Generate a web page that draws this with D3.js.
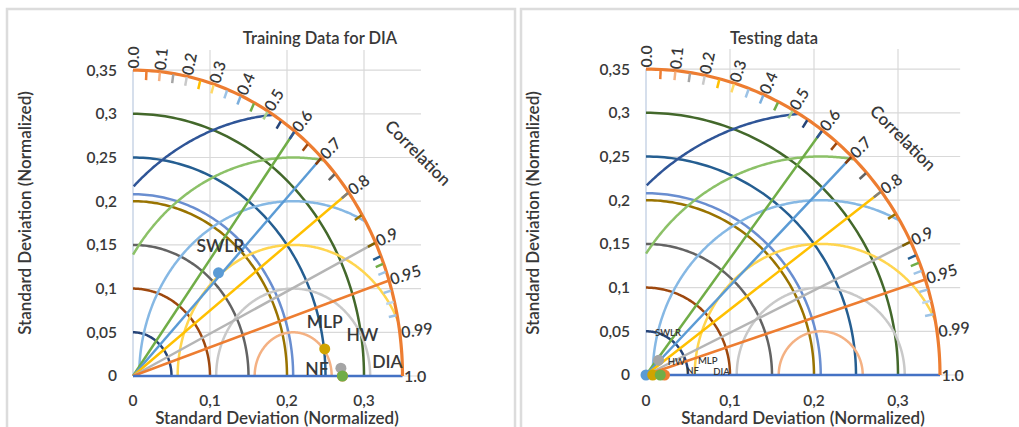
<!DOCTYPE html>
<html>
<head>
<meta charset="utf-8">
<script src="https://cdn.jsdelivr.net/npm/d3@7"></script>
<style>
body { margin: 0; background: #fff; }
text { font-family: Lato, "Open Sans", sans-serif; fill: #383838; font-weight: 600; }
</style>
</head>
<body>
<script>
// values

const yTicks = [0, 0.05, 0.1, 0.15, 0.2, 0.25, 0.3, 0.35]
const xTicks = [0, 0.1, 0.2, 0.3]
const stdCircles = [0.05, 0.1, 0.15, 0.2, 0.25, 0.3]
const refStd = 0.208
const outerStd = 0.35
const rmsCircles = [0.05, 0.1, 0.15, 0.2, 0.25, 0.3]
const corrLines = [0.6, 0.7, 0.8, 0.9, 0.95, 1.0]
const corrLabels = [0, 0.1, 0.2, 0.3, 0.4, 0.5, 0.6, 0.7, 0.8, 0.9, 0.95, 0.99, 1.0]
const corrTicks = [0.05, 0.1, 0.15, 0.2, 0.25, 0.3, 0.35, 0.4, 0.45, 0.5, 0.55, 0.6,
    0.65, 0.7, 0.75, 0.8, 0.85, 0.9, 0.92, 0.93, 0.94, 0.96, 0.97, 0.98]

const models = ["DIA", "SWLR", "MLP", "NF", "HW"]
const trainX = [0.272, 0.111, 0.249, 0.270, 0.272]
const trainY = [0, 0.118, 0.031, 0.009, 0]
const testX = [0.022, 0, 0.008, 0.015, 0.017]
const testY = [0, 0, 0, 0.017, 0]

// styles

const stdColors = ["#264478", "#9E480E", "#636363", "#997300", "#255E91", "#43682B"]
const rmsColors = ["#F4B183", "#C9C9C9", "#FFD54F", "#86B8E4", "#8CC168", "#2F5597"]
const corrColors = ["#70AD47", "#5B9BD5", "#FFC000", "#B5B5B5", "#ED7D31", "#4472C4"]
const tickColors = ["#ED7D31", "#F4B183", "#A5A5A5", "#C9C9C9", "#FFC000", "#FFD966",
    "#9DC3E6", "#7CAFDD", "#70AD47", "#A9D18E", "#264478", "#2F5597",
    "#9E480E", "#843C0C", "#636363", "#7F7F7F", "#997300", "#7F6000",
    "#255E91", "#70AD47", "#9DC3E6", "#9DC3E6", "#BDD7EE", "#9DC3E6"]
const modelColors = { SWLR: "#5B9BD5", MLP: "#D0A400", NF: "#A5A5A5", HW: "#70AD47", DIA: "#ED7D31" }

const W = 1019
const H = 427

const svg = d3.select("body")
    .append("svg")
    .attr("width", W)
    .attr("height", H)

// panel frames
svg.append("rect")
    .attr("x", 7).attr("y", 9)
    .attr("width", 508).attr("height", 440)
    .attr("fill", "none").attr("stroke", "#dcdcdc").attr("stroke-width", 2.5)
svg.append("rect")
    .attr("x", 521).attr("y", 9)
    .attr("width", 520).attr("height", 440)
    .attr("fill", "none").attr("stroke", "#dcdcdc").attr("stroke-width", 2.5)

const fmt = v => v === 0 ? "0" : String(v).replace(".", ",")
const corrFmt = v => v === 0 ? "0.0" : v === 1 ? "1.0" : String(v)

function drawPanel (cfg) {
    const g = svg.append("g")

    const sx = d3.scaleLinear().domain([0, 0.374]).range([cfg.x0, cfg.x0 + 0.374 * cfg.kx])
    const sy = d3.scaleLinear().domain([0, 0.373]).range([cfg.y0, cfg.y0 - 0.373 * 874])

    const line = d3.line().x(_ => sx(_[0])).y(_ => sy(_[1]))

    // gridlines
    g.append("g")
        .selectAll("line")
        .data(yTicks.slice(1))
        .enter().append("line")
        .attr("x1", sx(0)).attr("x2", sx(0.374))
        .attr("y1", _ => sy(_)).attr("y2", _ => sy(_))
        .attr("stroke", "#d9d9d9").attr("stroke-width", 1.2)
    g.append("g")
        .selectAll("line")
        .data(xTicks.slice(1))
        .enter().append("line")
        .attr("x1", _ => sx(_)).attr("x2", _ => sx(_))
        .attr("y1", sy(0)).attr("y2", sy(0.373))
        .attr("stroke", "#d9d9d9").attr("stroke-width", 1.2)
    g.append("line")
        .attr("x1", sx(0)).attr("x2", sx(0))
        .attr("y1", sy(0)).attr("y2", sy(outerStd))
        .attr("stroke", "#c8d4e6").attr("stroke-width", 1.5)
    g.append("line")
        .attr("x1", sx(0)).attr("x2", sx(0.374))
        .attr("y1", sy(0)).attr("y2", sy(0))
        .attr("stroke", "#d9d9d9").attr("stroke-width", 1.2)

    const circle = r => d3.range(0, 91).map(i => {
        const a = i / 90 * Math.PI / 2
        return [r * Math.cos(a), r * Math.sin(a)]
    })

    const rmsArc = r => d3.range(0, 401).map(i => {
        const a = i / 400 * Math.PI
        return [refStd + r * Math.cos(a), r * Math.sin(a)]
    }).filter(p => p[0] >= 0 && p[0] * p[0] + p[1] * p[1] <= outerStd * outerStd * 1.0005)

    // std-dev circles
    g.append("g")
        .selectAll("path")
        .data(stdCircles)
        .enter().append("path")
        .attr("d", _ => line(circle(_)))
        .attr("fill", "none")
        .attr("stroke", (_, i) => stdColors[i])
        .attr("stroke-width", 2.5)

    g.append("path")
        .attr("d", line(circle(refStd)))
        .attr("fill", "none").attr("stroke", "#698ED0").attr("stroke-width", 2.5)

    // rms circles
    g.append("g")
        .selectAll("path")
        .data(rmsCircles)
        .enter().append("path")
        .attr("d", _ => line(rmsArc(_)))
        .attr("fill", "none")
        .attr("stroke", (_, i) => rmsColors[i])
        .attr("stroke-width", 2.5)

    // correlation rays
    g.append("g")
        .selectAll("path")
        .data(corrLines)
        .enter().append("path")
        .attr("d", _ => line([[0, 0], [outerStd * _, outerStd * Math.sqrt(1 - _ * _)]]))
        .attr("fill", "none")
        .attr("stroke", (_, i) => corrColors[i])
        .attr("stroke-width", 2.5)

    // outer arc
    g.append("path")
        .attr("d", line(circle(outerStd)))
        .attr("fill", "none").attr("stroke", "#ED7D31").attr("stroke-width", 3.2)

    // minor ticks
    g.append("g")
        .selectAll("path")
        .data(corrTicks)
        .enter().append("path")
        .attr("d", _ => {
            const s = Math.sqrt(1 - _ * _)
            return line([[0.349 * _, 0.349 * s], [0.339 * _, 0.339 * s]])
        })
        .attr("stroke", (_, i) => tickColors[i % tickColors.length])
        .attr("stroke-width", 2.5)

    // correlation labels
    g.append("g")
        .selectAll("text")
        .data(corrLabels)
        .enter().append("text")
        .attr("transform", _ => {
            const s = Math.sqrt(1 - _ * _)
            const x = sx(outerStd * _) + 1.5 * _
            const y = sy(outerStd * s) - 1.5 * s
            return `translate(${x},${y}) rotate(${-Math.acos(_) * 180 / Math.PI})`
        })
        .attr("dy", "0.35em")
        .attr("font-size", 16)
        .text(corrFmt)

    g.append("text")
        .attr("transform", `translate(${cfg.corrX},${cfg.corrY}) rotate(45)`)
        .attr("text-anchor", "middle")
        .attr("dy", "0.35em")
        .attr("font-size", 17)
        .text("Correlation")

    // axes labels
    g.append("g")
        .selectAll("text")
        .data(yTicks)
        .enter().append("text")
        .attr("x", cfg.x0 - 16)
        .attr("y", _ => sy(_))
        .attr("dy", "0.35em")
        .attr("text-anchor", "end")
        .attr("font-size", 15.5)
        .text(fmt)
    g.append("g")
        .selectAll("text")
        .data(xTicks)
        .enter().append("text")
        .attr("x", _ => sx(_))
        .attr("y", 406)
        .attr("text-anchor", "middle")
        .attr("font-size", 15.5)
        .text(fmt)

    g.append("text")
        .attr("x", cfg.xTitleX).attr("y", 424)
        .attr("text-anchor", "middle")
        .attr("font-size", 17)
        .text("Standard Deviation (Normalized)")
    g.append("text")
        .attr("transform", `translate(${cfg.yTitleX},213) rotate(-90)`)
        .attr("text-anchor", "middle")
        .attr("dy", "0.35em")
        .attr("font-size", 17)
        .text("Standard Deviation (Normalized)")

    g.append("text")
        .attr("x", cfg.titleX).attr("y", 44)
        .attr("text-anchor", "middle")
        .attr("font-size", 16.5)
        .text(cfg.title)

    // model points
    const pts = models.map((m, i) => ({ name: m, x: cfg.xs[i], y: cfg.ys[i] }))
    g.append("g")
        .selectAll("circle")
        .data(pts)
        .enter().append("circle")
        .attr("cx", _ => sx(_.x))
        .attr("cy", _ => sy(_.y))
        .attr("r", 5.5)
        .attr("fill", _ => modelColors[_.name])
    g.append("g")
        .selectAll("text")
        .data(pts)
        .enter().append("text")
        .attr("x", _ => sx(_.x) + cfg.labelOffset[_.name][0])
        .attr("y", _ => sy(_.y) + cfg.labelOffset[_.name][1])
        .attr("text-anchor", "middle")
        .attr("font-size", cfg.labelSize)
        .text(_ => _.name)
}

drawPanel({
    x0: 133, y0: 376, kx: 770,
    title: "Training Data for DIA", titleX: 320,
    corrX: 418, corrY: 153,
    xTitleX: 277, yTitleX: 25,
    xs: trainX, ys: trainY,
    labelSize: 17.5,
    labelOffset: {
        SWLR: [2, -21], MLP: [0, -21], HW: [20, -35], NF: [-24, 7], DIA: [45, -8]
    }
})

drawPanel({
    x0: 646, y0: 375, kx: 840,
    title: "Testing data", titleX: 774,
    corrX: 903, corrY: 138,
    xTitleX: 803, yTitleX: 533,
    xs: testX, ys: testY,
    labelSize: 9.5,
    labelOffset: {
        SWLR: [22, -39], MLP: [55, -11], HW: [16, -10], NF: [34, 14], DIA: [57, 0]
    }
})
</script>
</body>
</html>
